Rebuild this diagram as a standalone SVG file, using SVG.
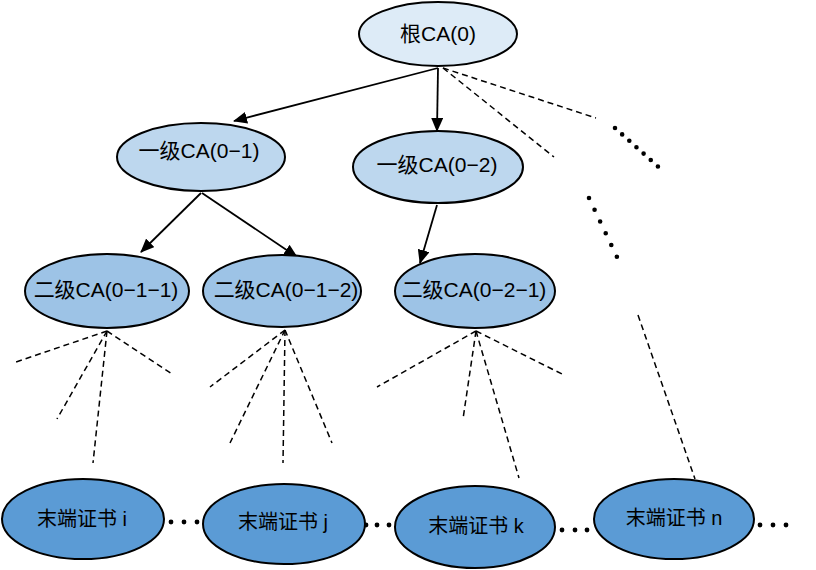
<svg xmlns="http://www.w3.org/2000/svg" width="816" height="570" viewBox="0 0 816 570">
<style>
  .n ellipse { stroke: #000; stroke-width: 2; }
  .root ellipse { fill: #DDEBF7; }
  .l1 ellipse { fill: #BDD7EE; }
  .l2 ellipse { fill: #9DC3E6; }
  .leaf ellipse { fill: #5B9BD5; }
  text { font-family: "Liberation Sans", "Noto Sans CJK SC", sans-serif; font-size: 21px; fill: #000; text-anchor: middle; }
  .leaf text { font-size: 20px; }
  .arrow { stroke: #000; stroke-width: 1.8; fill: none; marker-end: url(#ah); }
  .dash { stroke: #000; stroke-width: 1.5; fill: none; stroke-dasharray: 6 4; }
  .dots { stroke: #000; stroke-width: 4.6; fill: none; stroke-linecap: round; }
  .bdot { fill: #000; }
</style>
<defs>
  <marker id="ah" markerWidth="14" markerHeight="12" refX="13" refY="6" orient="auto" markerUnits="userSpaceOnUse">
    <path d="M0,0 L14,6 L0,12 z" fill="#000"/>
  </marker>
</defs>
<g id="connectors">
  <line class="arrow" x1="438" y1="68" x2="234" y2="121"/>
  <line class="arrow" x1="438" y1="68" x2="437" y2="131"/>
  <line class="arrow" x1="201" y1="193" x2="141" y2="252"/>
  <line class="arrow" x1="202" y1="193" x2="297" y2="257"/>
  <line class="arrow" x1="437" y1="205" x2="420" y2="263"/>
  <line class="dash" x1="443" y1="68" x2="596" y2="118"/>
  <line class="dash" x1="443" y1="68" x2="554" y2="157"/>
  <line class="dots" x1="615" y1="128" x2="663" y2="171" stroke-dasharray="0 9.6"/>
  <line class="dots" x1="589" y1="198" x2="617" y2="257" stroke-dasharray="0 13"/>
  <line class="dash" x1="638" y1="315" x2="695" y2="479"/>
  <line class="dash" x1="107" y1="331" x2="16" y2="362"/>
  <line class="dash" x1="107" y1="331" x2="57" y2="419"/>
  <line class="dash" x1="107" y1="331" x2="93" y2="463"/>
  <line class="dash" x1="107" y1="331" x2="172" y2="374"/>
  <line class="dash" x1="285" y1="330" x2="210" y2="387"/>
  <line class="dash" x1="285" y1="330" x2="230" y2="443"/>
  <line class="dash" x1="285" y1="330" x2="283" y2="463"/>
  <line class="dash" x1="285" y1="330" x2="332" y2="443"/>
  <line class="dash" x1="476" y1="331" x2="377" y2="387"/>
  <line class="dash" x1="476" y1="331" x2="463" y2="419"/>
  <line class="dash" x1="476" y1="331" x2="519" y2="478"/>
  <line class="dash" x1="476" y1="331" x2="562" y2="374"/>
  <circle class="bdot" cx="171" cy="522" r="2.4"/>
  <circle class="bdot" cx="184" cy="522" r="2.4"/>
  <circle class="bdot" cx="197" cy="522" r="2.4"/>
  <circle class="bdot" cx="366" cy="525" r="2.4"/>
  <circle class="bdot" cx="377" cy="525" r="2.4"/>
  <circle class="bdot" cx="389" cy="525" r="2.4"/>
  <circle class="bdot" cx="562" cy="530" r="2.4"/>
  <circle class="bdot" cx="575" cy="530" r="2.4"/>
  <circle class="bdot" cx="587" cy="530" r="2.4"/>
  <circle class="bdot" cx="760" cy="525" r="2.4"/>
  <circle class="bdot" cx="773" cy="525" r="2.4"/>
  <circle class="bdot" cx="786" cy="525" r="2.4"/>
</g>
<g id="root" class="n root">
  <ellipse cx="438" cy="34" rx="79" ry="32"/>
  <text x="438" y="41">根CA(0)</text>
</g>
<g id="ca01" class="n l1">
  <ellipse cx="201" cy="157" rx="84" ry="34"/>
  <text x="199" y="158">一级CA(0−1)</text>
</g>
<g id="ca02" class="n l1">
  <ellipse cx="438" cy="167" rx="85" ry="36"/>
  <text x="437" y="172">一级CA(0−2)</text>
</g>
<g id="ca011" class="n l2">
  <ellipse cx="107" cy="291" rx="82" ry="37"/>
  <text x="106" y="297">二级CA(0−1−1)</text>
</g>
<g id="ca012" class="n l2">
  <ellipse cx="282" cy="291" rx="79" ry="36"/>
  <text x="286" y="297">二级CA(0−1−2)</text>
</g>
<g id="ca021" class="n l2">
  <ellipse cx="475" cy="291" rx="80" ry="37"/>
  <text x="474" y="297">二级CA(0−2−1)</text>
</g>
<g id="leaf-i" class="n leaf">
  <ellipse cx="83" cy="519" rx="81" ry="40"/>
  <text x="82" y="526">末端证书 i</text>
</g>
<g id="leaf-j" class="n leaf">
  <ellipse cx="284" cy="524" rx="81" ry="40"/>
  <text x="283" y="529">末端证书 j</text>
</g>
<g id="leaf-k" class="n leaf">
  <ellipse cx="475" cy="527" rx="80" ry="41"/>
  <text x="476" y="533">末端证书 k</text>
</g>
<g id="leaf-n" class="n leaf">
  <ellipse cx="674" cy="519" rx="80" ry="40"/>
  <text x="674" y="525">末端证书 n</text>
</g>
</svg>
